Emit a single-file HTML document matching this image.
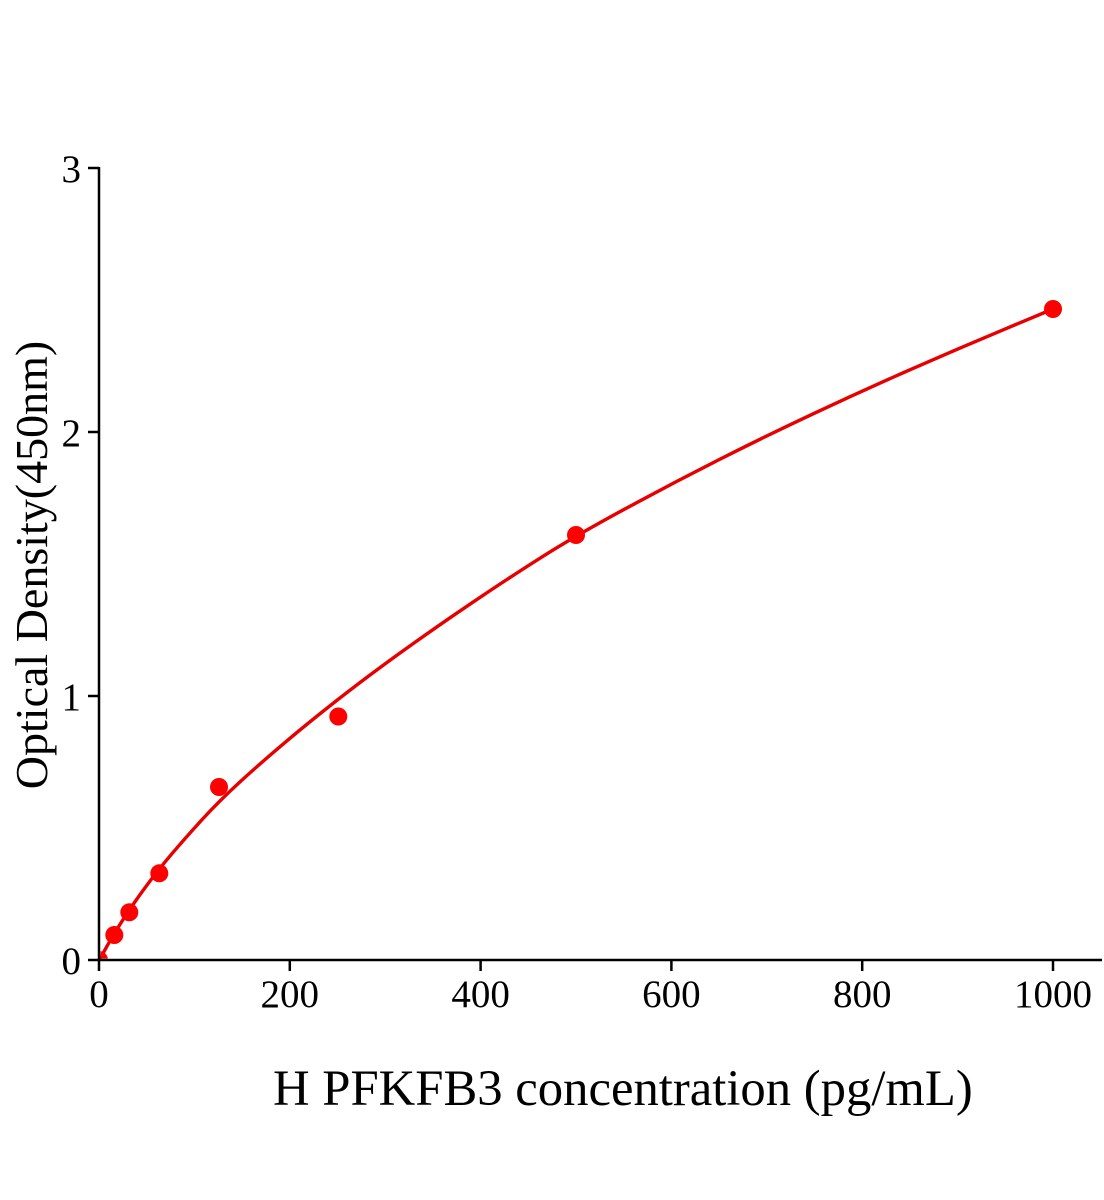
<!DOCTYPE html>
<html>
<head>
<meta charset="utf-8">
<style>
  html, body { margin: 0; padding: 0; background: #ffffff; }
  svg { display: block; }
  text { font-family: "Liberation Serif", "Times New Roman", serif; fill: #000; }
</style>
</head>
<body>
<svg width="1104" height="1200" viewBox="0 0 1104 1200" xmlns="http://www.w3.org/2000/svg">
  <rect x="0" y="0" width="1104" height="1200" fill="#ffffff"/>
  <defs>
    <clipPath id="plot">
      <rect x="100.5" y="100" width="1004" height="858.5"/>
    </clipPath>
  </defs>

  <!-- fitted curve -->
  <path fill="none" stroke="#e80000" stroke-width="3.4" stroke-linejoin="round" stroke-linecap="round"
    d="M99,960 L99.95,958.55 Q100.9,957.1 102.35,954.55 Q103.8,952 106.15,947.7 Q108.5,943.4 111.2,938.8 Q113.9,934.2 118.4,926.95 Q122.9,919.7 130.05,909 Q137.2,898.3 147.9,883.85 Q158.6,869.4 171.75,853.95 Q184.9,838.5 201.6,820.15 Q218.3,801.8 239.75,782.15 Q261.2,762.5 285.05,742.4 Q308.9,722.3 337.5,699.9 Q366.1,677.5 399.5,653.4 Q432.9,629.3 471.05,603.45 Q509.2,577.6 542.6,556.55 Q576,535.5 623.7,509.65 Q671.4,483.8 719.1,459.65 Q766.8,435.5 814.5,413.15 Q862.2,390.8 909.9,369.8 Q957.6,348.8 1005.3,328.9 L1053,309"/>

  <!-- data points -->
  <g fill="#ff0000">
    <circle cx="99" cy="960" r="9" clip-path="url(#plot)"/>
    <circle cx="114.3" cy="935" r="9"/>
    <circle cx="129.3" cy="912.3" r="9"/>
    <circle cx="159.3" cy="873.3" r="9"/>
    <circle cx="219" cy="787" r="9"/>
    <circle cx="338.3" cy="716.5" r="9"/>
    <circle cx="576" cy="535" r="9"/>
    <circle cx="1053" cy="309" r="9"/>
  </g>

  <!-- axes -->
  <g stroke="#000" stroke-width="2.5" fill="none">
    <line x1="99" y1="167" x2="99" y2="961"/>
    <line x1="97.8" y1="960" x2="1102" y2="960"/>
    <!-- y ticks -->
    <line x1="88" y1="168" x2="99" y2="168"/>
    <line x1="88" y1="432" x2="99" y2="432"/>
    <line x1="88" y1="696" x2="99" y2="696"/>
    <line x1="88" y1="960" x2="99" y2="960"/>
    <!-- x ticks -->
    <line x1="99" y1="960" x2="99" y2="971"/>
    <line x1="289.8" y1="960" x2="289.8" y2="971"/>
    <line x1="480.6" y1="960" x2="480.6" y2="971"/>
    <line x1="671.4" y1="960" x2="671.4" y2="971"/>
    <line x1="862.2" y1="960" x2="862.2" y2="971"/>
    <line x1="1053" y1="960" x2="1053" y2="971"/>
  </g>

  <!-- y tick labels -->
  <g font-size="39" text-anchor="end">
    <text x="81" y="182">3</text>
    <text x="81" y="446">2</text>
    <text x="81" y="710">1</text>
    <text x="81" y="974">0</text>
  </g>

  <!-- x tick labels -->
  <g font-size="39" text-anchor="middle">
    <text x="99" y="1007">0</text>
    <text x="289.8" y="1007">200</text>
    <text x="480.6" y="1007">400</text>
    <text x="671.4" y="1007">600</text>
    <text x="862.2" y="1007">800</text>
    <text x="1053" y="1007">1000</text>
  </g>

  <!-- axis titles -->
  <text x="273" y="1105" font-size="50.7">H PFKFB3 concentration (pg/mL)</text>
  <text transform="translate(47,565) rotate(-90)" font-size="46" text-anchor="middle">Optical Density(450nm)</text>
</svg>
</body>
</html>
